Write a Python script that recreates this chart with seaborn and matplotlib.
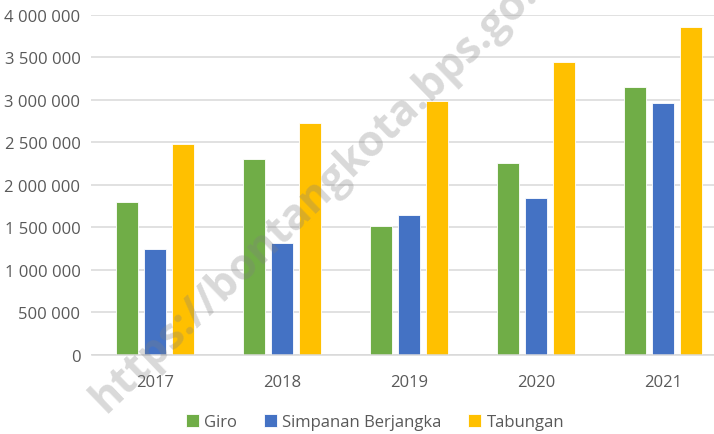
import matplotlib
matplotlib.use("Agg")
import matplotlib.pyplot as plt
import seaborn as sns
import pandas as pd
from matplotlib.ticker import FuncFormatter, MultipleLocator

years = ["2017", "2018", "2019", "2020", "2021"]
giro = [1797000, 2306000, 1514000, 2255000, 3149000]
simpanan = [1240000, 1310000, 1647000, 1843000, 2957000]
tabungan = [2479000, 2729000, 2980000, 3440000, 3852000]
series_names = ["Giro", "Simpanan Berjangka", "Tabungan"]
colors = ["#70AD47", "#4472C4", "#FFC000"]

rows = []
for name, vals in zip(series_names, [giro, simpanan, tabungan]):
    for y, v in zip(years, vals):
        rows.append({"Tahun": y, "Seri": name, "Nilai": v})
df = pd.DataFrame(rows)

sns.set_theme(style="white")
plt.rcParams["font.family"] = ["Open Sans", "DejaVu Sans"]

fig = plt.figure(figsize=(7.14, 4.35), dpi=100)
ax = fig.add_axes([91.5/714, 1 - 355.7/435, 635/714, 340/435])

sns.barplot(data=df, x="Tahun", y="Nilai", hue="Seri", hue_order=series_names,
            palette=colors, width=0.661, gap=0.21, ax=ax, legend=True,
            edgecolor="white", linewidth=0.6, saturation=1)

ax.set_ylim(0, 4000000)
ax.yaxis.set_major_locator(MultipleLocator(500000))
ax.yaxis.set_major_formatter(FuncFormatter(lambda v, p: f"{int(v):,}".replace(",", " ")))
ax.grid(axis="y", color="#d9d9d9", linewidth=1.1)
ax.set_axisbelow(True)
for s in ["top", "right", "left"]:
    ax.spines[s].set_visible(False)
ax.spines["bottom"].set_color("#d9d9d9")
ax.spines["bottom"].set_linewidth(1.1)
ax.set_xlabel("")
ax.set_ylabel("")
ax.tick_params(axis="both", length=0, labelsize=12, labelcolor="#595959")
ax.tick_params(axis="y", pad=8)
ax.tick_params(axis="x", pad=14)

handles, labels = ax.get_legend_handles_labels()
ax.legend_.remove()
fig.legend(handles, labels, loc="center", bbox_to_anchor=(375/714, 1 - 423/435),
           ncol=3, frameon=False, fontsize=12, handlelength=0.8, handleheight=0.8,
           handletextpad=0.3, columnspacing=1.6, labelcolor="#595959")

fig.text(106/714, 1 - 414/435, "https://bontangkota.bps.go.id", rotation=44,
         rotation_mode="anchor", ha="left", va="baseline", fontsize=31,
         fontweight="bold", color="#808080", alpha=0.3, family=["Open Sans", "DejaVu Sans"])

fig.savefig("out.png", dpi=100)
